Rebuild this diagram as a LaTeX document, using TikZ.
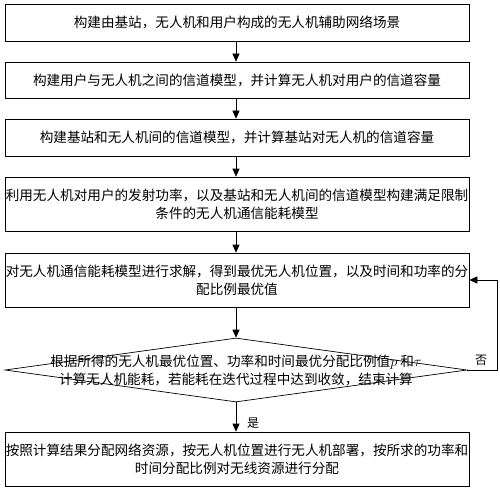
\documentclass[tikz,border=0pt]{standalone}
\usepackage{fontspec}
\newfontfamily\cjk{Noto Sans CJK SC}
\usetikzlibrary{shapes.geometric,arrows.meta}
\begin{document}
\begin{tikzpicture}[x=1pt,y=-1pt,
  every node/.style={font=\cjk\fontsize{13.6pt}{18pt}\selectfont},
  stepbox/.style={draw,line width=0.7pt,rectangle,minimum width=464pt,inner sep=0pt,align=center},
  decbox/.style={draw,line width=0.7pt,diamond,minimum width=462pt,minimum height=64pt,inner sep=0pt},
  flow/.style={line width=0.7pt,-{Triangle[length=8pt,width=7pt]}},
  lbl/.style={inner sep=0pt,font=\cjk\fontsize{12pt}{14pt}\selectfont}]
\useasboundingbox (0,0) rectangle (500,492);
\node[stepbox,minimum height=37pt] (b1) at (237,22.5) {构建由基站，无人机和用户构成的无人机辅助网络场景};
\node[stepbox,minimum height=36pt] (b2) at (237,80) {构建用户与无人机之间的信道模型，并计算无人机对用户的信道容量};
\node[stepbox,minimum height=37pt] (b3) at (237,137.5) {构建基站和无人机间的信道模型，并计算基站对无人机的信道容量};
\node[stepbox,minimum height=54pt] (b4) at (237,204) {利用无人机对用户的发射功率，以及基站和无人机间的信道模型构建满足限制\\条件的无人机通信能耗模型};
\node[stepbox,minimum height=54pt] (b5) at (237,280) {对无人机通信能耗模型进行求解，得到最优无人机位置，以及时间和功率的分\\配比例最优值};
\node[decbox] (d) at (236,370) {};
\node[align=center,inner sep=0pt] (dt) at (236,370.5) {根据所得的无人机最优位置、功率和时间最优分配比例值$p$ 和$\tau$\\计算无人机能耗，若能耗在迭代过程中达到收敛，结束计算};
\node[stepbox,minimum height=54pt] (b6) at (237,459) {按照计算结果分配网络资源，按无人机位置进行无人机部署，按所求的功率和\\时间分配比例对无线资源进行分配};
\draw[flow] (b1.south -| 236,0) -- (b2.north -| 236,0);
\draw[flow] (b2.south -| 236,0) -- (b3.north -| 236,0);
\draw[flow] (b3.south -| 236,0) -- (b4.north -| 236,0);
\draw[flow] (b4.south -| 236,0) -- (b5.north -| 236,0);
\draw[flow] (b5.south -| 236,0) -- (d.north);
\draw[flow] (d.south) -- (b6.north -| 236,0);
\coordinate (fb) at (497,370);
\draw[flow] (d.east) -- (fb) |- (b5.east);
\node[lbl] (no) at (481,360) {否};
\node[lbl] (yes) at (253,423) {是};
\end{tikzpicture}
\end{document}
